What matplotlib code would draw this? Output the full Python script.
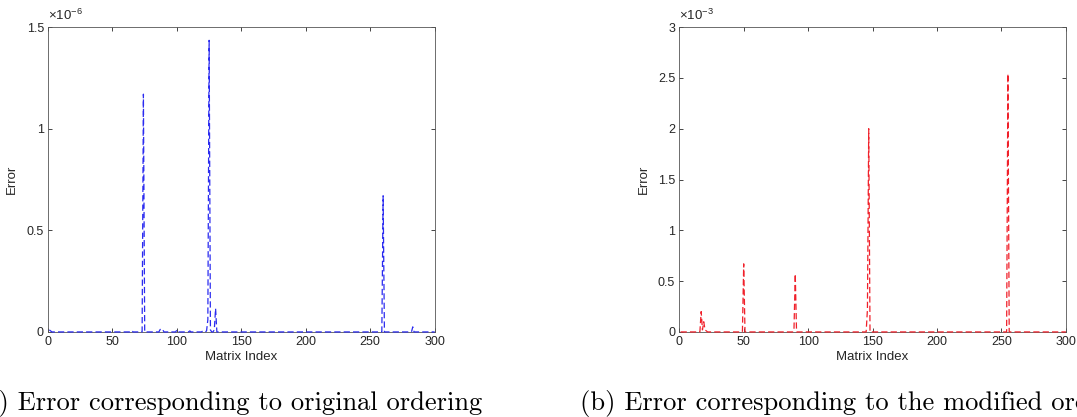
import numpy as np
import matplotlib
matplotlib.use('Agg')
import matplotlib.pyplot as plt

plt.rcParams['font.family'] = ['Liberation Sans', 'DejaVu Sans']
plt.rcParams['mathtext.fontset'] = 'custom'
plt.rcParams['mathtext.rm'] = 'Liberation Sans'
plt.rcParams['mathtext.it'] = 'Liberation Sans:italic'

# matrix index 1..300, error is ~0 except at the peaks
n_points = 300

# (a) original ordering, values in units of 1e-6
orig_peak_idx = [1, 2, 65, 73, 74, 75, 87, 88, 89, 100, 110, 120, 123, 124, 125, 126, 129, 130, 131, 259, 260, 261, 283]
orig_peak_val = [0.01, 0.005, 0.006, 0.0, 1.17, 0.0, 0.012, 0.016, 0.01, 0.01, 0.005, 0.004, 0.005, 0.06, 1.435, 0.01, 0.01, 0.115, 0.0, 0.0, 0.67, 0.0, 0.025]

# (b) modified ordering, values in units of 1e-3
mod_peak_idx = [16, 17, 18, 19, 20, 21, 49, 50, 51, 89, 90, 91, 145, 146, 147, 148, 254, 255, 256]
mod_peak_val = [0.0, 0.2, 0.02, 0.1, 0.02, 0.01, 0.0, 0.67, 0.0, 0.02, 0.57, 0.0, 0.0, 0.22, 2.0, 0.0, 0.0, 2.54, 0.0]

captions = ['(a) Error corresponding to original ordering',
            '(b) Error corresponding to the modified ordering']


def build_series(idx, val):
    y = np.zeros(n_points)
    for i, v in zip(idx, val):
        y[i - 1] = v
    return y


x = np.arange(1, n_points + 1)
err_orig = build_series(orig_peak_idx, orig_peak_val)
err_mod = build_series(mod_peak_idx, mod_peak_val)

fig = plt.figure(figsize=(10.77, 4.17), dpi=100)

panels = [
    (0.0446, err_orig, '#2b2bf0', [0, 0.5, 1, 1.5], ['0', '0.5', '1', '1.5'], 1.5, r'$\times$10$^{-6}$'),
    (0.6307, err_mod, '#f0202a', [0, 0.5, 1, 1.5, 2, 2.5, 3], ['0', '0.5', '1', '1.5', '2', '2.5', '3'], 3, r'$\times$10$^{-3}$'),
]

axis_col = '#262626'
for left, y, col, yt, ytl, ymax, expo in panels:
    ax = fig.add_axes([left, 0.204, 0.359, 0.731])
    ax.plot(x, y, color=col, lw=0.9, linestyle=(0, (5, 2.5)), zorder=3, clip_on=False)
    ax.set_xlim(0, 300)
    ax.set_ylim(0, ymax)
    ax.set_xticks(np.arange(0, 301, 50))
    ax.set_yticks(yt)
    ax.set_yticklabels(ytl)
    ax.tick_params(direction='in', top=True, right=True, length=3, width=0.6,
                   labelsize=9, colors=axis_col, labelcolor=axis_col, pad=3)
    for s in ax.spines.values():
        s.set_linewidth(0.6)
        s.set_color('#555555')
        s.set_zorder(2)
    ax.set_xlabel('Matrix Index', fontsize=9.5, color=axis_col, labelpad=2)
    ax.set_ylabel('Error', fontsize=9.5, color=axis_col, labelpad=6)
    ax.text(0.0, 1.012, expo, transform=ax.transAxes, fontsize=9.5, color=axis_col,
            ha='left', va='bottom')

fig.text(482 / 1077, 0.017, captions[0], fontfamily='cmr10', fontsize=19.1,
         ha='right', va='baseline', color='black')
fig.text(580 / 1077, 0.017, captions[1], fontfamily='cmr10', fontsize=19.1,
         ha='left', va='baseline', color='black')

fig.savefig('out.png', dpi=100)
